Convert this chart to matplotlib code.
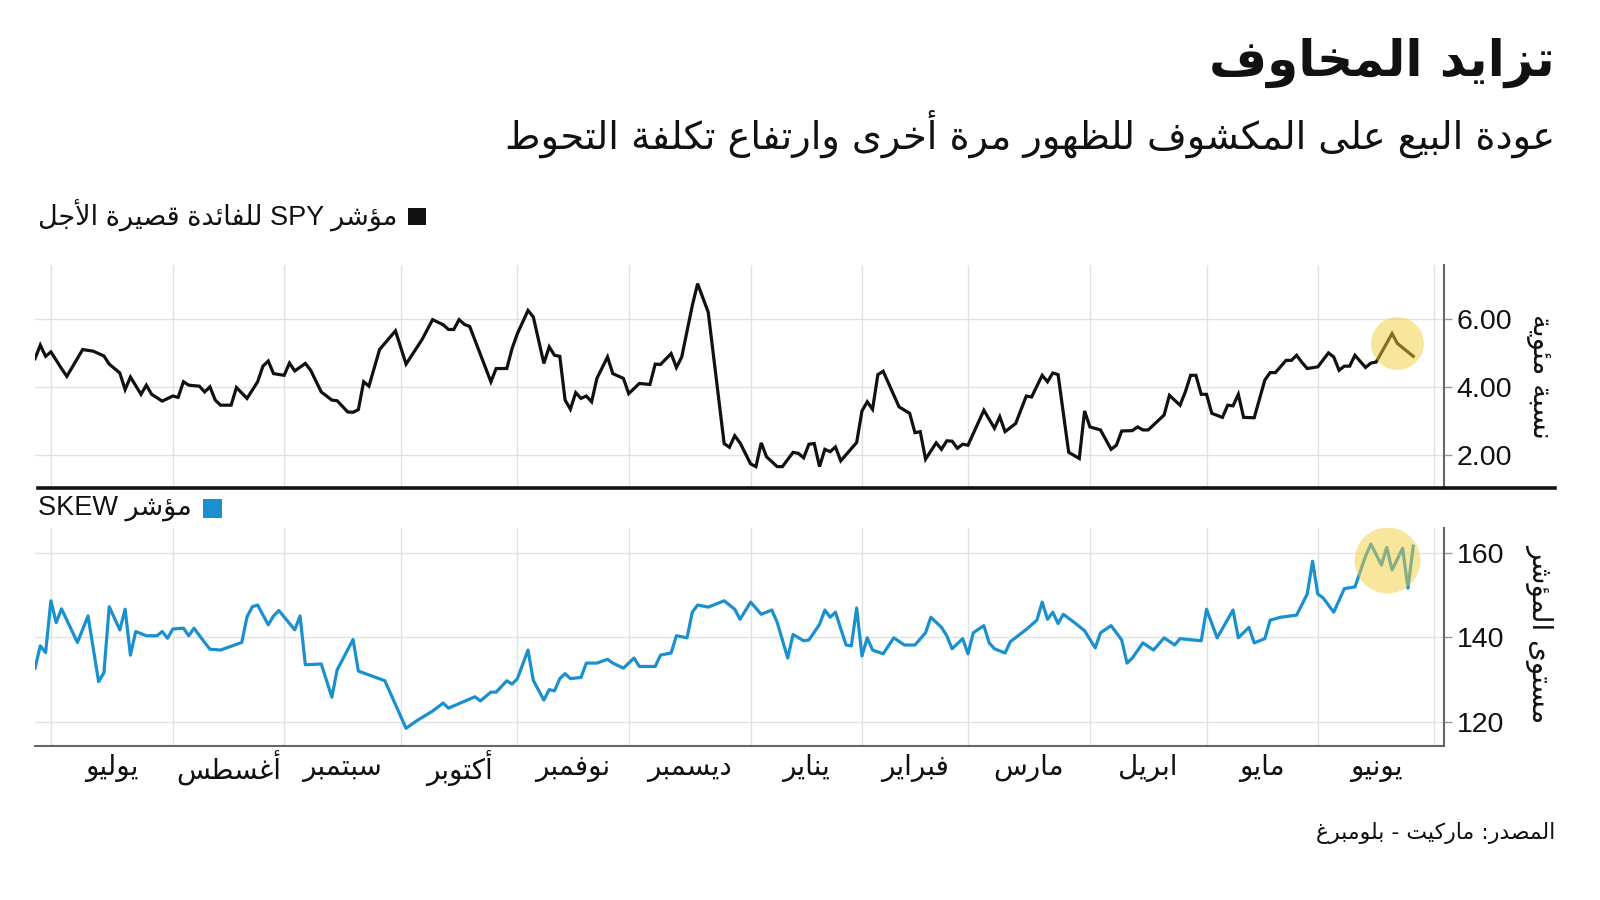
import re
import numpy as np
import pandas as pd
import matplotlib
matplotlib.use("Agg")
import matplotlib.pyplot as plt
from matplotlib.lines import Line2D
from matplotlib.patches import Rectangle
import matplotlib.transforms as mtransforms

# ---- data (x = trading day counted from 1 Jul 2020) ----
spy_day = [-3, -2, -1, 0, 2, 3, 6, 8, 10, 11, 13, 14, 15, 17, 18, 19, 21, 23, 24, 25, 26, 28, 29, 30, 31,
           32, 34, 35, 37, 39, 40, 41, 42, 44, 45, 46, 48, 49, 51, 53, 54, 56, 57, 58, 59, 60, 62, 65, 67,
           70, 72, 74, 75, 76, 77, 78, 79, 83, 84, 86, 87, 88, 90, 91, 93, 94, 95, 96, 97, 98, 99, 100,
           101, 102, 103, 105, 106, 108, 109, 111, 113, 114, 115, 117, 118, 119, 121, 122, 124, 127, 128,
           129, 130, 132, 133, 134, 135, 137, 138, 140, 141, 142, 143, 144, 145, 146, 147, 148, 149, 152,
           153, 154, 155, 156, 157, 160, 162, 163, 164, 165, 167, 168, 169, 170, 171, 172, 173, 176, 178,
           179, 180, 182, 184, 185, 187, 188, 189, 190, 192, 194, 195, 196, 198, 200, 201, 202, 204, 205,
           206, 207, 210, 211, 213, 214, 215, 216, 217, 218, 219, 221, 222, 223, 224, 225, 227, 229, 230,
           231, 233, 234, 235, 236, 237, 239, 241, 242, 243, 244, 245, 246, 248, 249, 250, 253, 254, 257]
spy_val = [4.84, 5.24, 4.91, 5.04, 4.55, 4.32, 5.11, 5.06, 4.92, 4.68, 4.42, 3.93, 4.30, 3.79, 4.06, 3.79,
           3.59, 3.74, 3.70, 4.16, 4.06, 4.03, 3.86, 4.01, 3.62, 3.47, 3.47, 3.99, 3.67, 4.16, 4.62, 4.77,
           4.40, 4.35, 4.71, 4.48, 4.70, 4.50, 3.86, 3.62, 3.60, 3.27, 3.26, 3.34, 4.16, 4.03, 5.11, 5.66,
           4.68, 5.40, 5.99, 5.84, 5.70, 5.70, 5.99, 5.85, 5.79, 4.16, 4.55, 4.55, 5.14, 5.58, 6.26, 6.07,
           4.70, 5.19, 4.94, 4.91, 3.62, 3.35, 3.84, 3.67, 3.74, 3.57, 4.26, 4.89, 4.40, 4.26, 3.81, 4.11,
           4.08, 4.68, 4.67, 4.99, 4.58, 4.89, 6.41, 7.05, 6.21, 2.34, 2.23, 2.57, 2.36, 1.74, 1.66, 2.36,
           1.95, 1.66, 1.66, 2.08, 2.05, 1.92, 2.32, 2.34, 1.66, 2.17, 2.10, 2.24, 1.83, 2.37, 3.30, 3.57,
           3.35, 4.37, 4.47, 3.42, 3.23, 2.66, 2.69, 1.88, 2.36, 2.17, 2.42, 2.41, 2.20, 2.32, 2.29, 3.32,
           2.79, 3.13, 2.69, 2.93, 3.74, 3.71, 4.35, 4.16, 4.42, 4.37, 2.08, 1.90, 3.30, 2.83, 2.74, 2.17,
           2.29, 2.71, 2.72, 2.83, 2.74, 2.74, 3.18, 3.76, 3.47, 3.86, 4.35, 4.35, 3.79, 3.79, 3.23, 3.11,
           3.47, 3.45, 3.79, 3.11, 3.10, 4.21, 4.43, 4.43, 4.79, 4.79, 4.94, 4.73, 4.55, 4.60, 5.01, 4.89,
           4.50, 4.62, 4.62, 4.94, 4.58, 4.71, 4.74, 5.58, 5.29, 4.91]

skew_day = [-3, -2, -1, 0, 1, 2, 5, 7, 9, 10, 11, 13, 14, 15, 16, 18, 20, 21, 22, 23, 25, 26, 27, 29, 30,
            32, 36, 37, 38, 39, 41, 42, 43, 46, 47, 48, 51, 53, 54, 57, 58, 63, 67, 69, 72, 74, 75, 80, 81,
            83, 84, 86, 87, 88, 90, 91, 93, 94, 95, 96, 97, 98, 100, 101, 103, 105, 106, 108, 110, 111,
            114, 115, 117, 118, 120, 121, 122, 124, 127, 129, 130, 132, 134, 136, 137, 139, 140, 142, 143,
            145, 146, 147, 148, 150, 151, 152, 153, 154, 155, 157, 159, 161, 163, 165, 166, 168, 169, 170,
            172, 173, 174, 176, 177, 178, 180, 181, 184, 186, 187, 188, 189, 190, 191, 193, 195, 197, 198,
            200, 202, 203, 204, 206, 208, 210, 212, 213, 217, 218, 220, 223, 224, 226, 227, 229, 230, 232,
            235, 237, 238, 239, 240, 242, 244, 246, 248, 249, 251, 252, 253, 255, 256, 257]
skew_val = [132.7, 138.0, 136.4, 148.7, 143.5, 146.8, 138.8, 145.1, 129.5, 131.6, 147.3, 141.8, 146.7,
            135.8, 141.4, 140.4, 140.4, 141.4, 139.8, 142.0, 142.2, 140.4, 142.2, 138.8, 137.2, 137.0,
            138.8, 144.9, 147.3, 147.7, 143.0, 145.1, 146.4, 141.8, 145.1, 133.5, 133.7, 125.8, 132.3,
            139.5, 132.0, 129.7, 118.4, 120.2, 122.5, 124.4, 123.2, 125.9, 124.9, 127.0, 127.0, 129.7,
            128.9, 130.2, 137.0, 129.8, 125.1, 127.6, 127.3, 130.2, 131.4, 130.2, 130.5, 133.9, 133.9,
            134.8, 133.9, 132.7, 135.1, 133.1, 133.1, 135.8, 136.3, 140.4, 139.9, 146.0, 147.7, 147.2,
            148.7, 146.7, 144.3, 148.4, 145.5, 146.5, 143.6, 135.1, 140.7, 139.2, 139.4, 143.1, 146.5,
            144.8, 146.0, 138.2, 138.0, 147.0, 135.6, 139.9, 137.0, 136.1, 139.9, 138.2, 138.2, 141.1,
            144.8, 142.4, 140.4, 137.3, 139.7, 136.1, 141.1, 142.8, 138.7, 137.3, 136.3, 139.0, 141.9,
            144.1, 148.4, 144.3, 146.0, 143.3, 145.5, 143.6, 141.6, 137.5, 141.1, 142.8, 139.4, 133.9,
            135.1, 138.7, 137.0, 139.9, 138.2, 139.7, 139.2, 146.7, 139.9, 146.5, 139.9, 142.4, 138.7,
            139.7, 144.1, 144.8, 145.3, 150.3, 158.1, 150.3, 149.4, 146.0, 151.6, 152.0, 159.3, 162.2,
            157.2, 161.4, 156.0, 161.2, 151.7, 161.7]

month_names = ["يوليو", "أغسطس", "سبتمبر", "أكتوبر", "نوفمبر", "ديسمبر",
               "يناير", "فبراير", "مارس", "ابريل", "مايو", "يونيو"]
month_starts = pd.date_range("2020-07-01", "2021-07-01", freq="MS")

spy_ticks = [2, 4, 6]
skew_ticks = [120, 140, 160]
spy_focus = (254, 5.3)     # highlighted latest move
skew_focus = (252, 158.4)

title = "تزايد المخاوف"
subtitle = "عودة البيع على المكشوف للظهور مرة أخرى وارتفاع تكلفة التحوط"
spy_label = "مؤشر SPY للفائدة قصيرة الأجل"
skew_label = "مؤشر SKEW"
spy_ylabel = "نسبة مئوية"
skew_ylabel = "مستوى المؤشر"
source = "المصدر: ماركيت - بلومبرغ"

# ---- arabic shaping: matplotlib has no text shaping, so pick presentation forms by hand ----
FORMS = {
    'ء': (0xFE80, 1), 'آ': (0xFE81, 2), 'أ': (0xFE83, 2), 'ؤ': (0xFE85, 2), 'إ': (0xFE87, 2),
    'ئ': (0xFE89, 4), 'ا': (0xFE8D, 2), 'ب': (0xFE8F, 4), 'ة': (0xFE93, 2), 'ت': (0xFE95, 4),
    'ث': (0xFE99, 4), 'ج': (0xFE9D, 4), 'ح': (0xFEA1, 4), 'خ': (0xFEA5, 4), 'د': (0xFEA9, 2),
    'ذ': (0xFEAB, 2), 'ر': (0xFEAD, 2), 'ز': (0xFEAF, 2), 'س': (0xFEB1, 4), 'ش': (0xFEB5, 4),
    'ص': (0xFEB9, 4), 'ض': (0xFEBD, 4), 'ط': (0xFEC1, 4), 'ظ': (0xFEC5, 4), 'ع': (0xFEC9, 4),
    'غ': (0xFECD, 4), 'ف': (0xFED1, 4), 'ق': (0xFED5, 4), 'ك': (0xFED9, 4), 'ل': (0xFEDD, 4),
    'م': (0xFEE1, 4), 'ن': (0xFEE5, 4), 'ه': (0xFEE9, 4), 'و': (0xFEED, 2), 'ى': (0xFEEF, 2),
    'ي': (0xFEF1, 4),
}
LAM_ALEF = {'آ': 0xFEF5, 'أ': 0xFEF7, 'إ': 0xFEF9, 'ا': 0xFEFB}


def ar(text):
    chars = list(text)
    out = []
    i = 0
    while i < len(chars):
        c = chars[i]
        if c not in FORMS:
            out.append(c)
            i += 1
            continue
        prev = chars[i - 1] if i > 0 else ''
        joins_prev = prev in FORMS and FORMS[prev][1] == 4
        if c == 'ل' and i + 1 < len(chars) and chars[i + 1] in LAM_ALEF:
            out.append(chr(LAM_ALEF[chars[i + 1]] + (1 if joins_prev else 0)))
            i += 2
            continue
        nxt = chars[i + 1] if i + 1 < len(chars) else ''
        base, n = FORMS[c]
        joins_next = n == 4 and nxt in FORMS
        if joins_prev and joins_next:
            f = 3
        elif joins_prev and n > 1:
            f = 1
        elif joins_next:
            f = 2
        else:
            f = 0
        out.append(chr(base + f))
        i += 1
    s = ''.join(out)[::-1]
    # latin words / numbers keep left-to-right order
    return re.sub(r'[A-Za-z0-9.]+', lambda m: m.group(0)[::-1], s)


plt.rcParams['font.family'] = ['DejaVu Sans']
MIX = ['Liberation Sans', 'DejaVu Sans']
INK = '#111111'
BLUE = '#1a90cf'
GRID = '#e2e2e2'
AXC = '#666666'

fig = plt.figure(figsize=(16, 9), dpi=100)
W, H = 1600, 900

start = np.datetime64("2020-07-01")
tick_pos = np.busday_count(start, month_starts.values.astype("datetime64[D]"))
mids = (tick_pos[:-1] + tick_pos[1:]) / 2

x0, x1 = 35, 1444
ax1 = fig.add_axes([x0 / W, 1 - 488 / H, (x1 - x0) / W, (488 - 265) / H])
ax2 = fig.add_axes([x0 / W, 1 - 746 / H, (x1 - x0) / W, (746 - 528) / H])

for ax in (ax1, ax2):
    ax.set_xlim(-3, 262.8)
    ax.set_xticks(tick_pos)
    ax.set_xticklabels([])
    ax.tick_params(axis='x', length=0)
    ax.yaxis.tick_right()
    ax.tick_params(axis='y', length=6, width=1, color='#999999', pad=3, labelsize=20.5, labelcolor=INK)
    ax.grid(True, color=GRID, linewidth=1)
    ax.set_axisbelow(True)
    for s in ('top', 'left'):
        ax.spines[s].set_visible(False)
    ax.spines['right'].set_color(AXC)
    ax.spines['right'].set_linewidth(1.5)

ax1.spines['bottom'].set_visible(False)
ax2.spines['bottom'].set_color(AXC)
ax2.spines['bottom'].set_linewidth(1.5)

ax1.plot(spy_day, spy_val, color=INK, lw=2.3, solid_joinstyle='miter', zorder=3)
ax1.set_ylim(1.03, 7.6)
ax1.set_yticks(spy_ticks)
ax1.set_yticklabels([f"{v:.2f}" for v in spy_ticks], fontfamily=MIX)
ax1.scatter([spy_focus[0]], [spy_focus[1]], s=1450, color='#f2cf3c', alpha=0.5, lw=0, zorder=4)

ax2.plot(skew_day, skew_val, color=BLUE, lw=2.3, zorder=3)
ax2.set_ylim(114.2, 166)
ax2.set_yticks(skew_ticks)
ax2.set_yticklabels([str(v) for v in skew_ticks], fontfamily=MIX)
ax2.scatter([skew_focus[0]], [skew_focus[1]], s=2250, color='#f2cf3c', alpha=0.5, lw=0, zorder=4)

# month names under the lower panel
trans = mtransforms.blended_transform_factory(ax2.transData, ax2.transAxes)
for m, name in zip(mids, month_names):
    ax2.text(m, -0.1, ar(name), transform=trans, ha='center', va='center', fontsize=20, color=INK)

# separator rule between the panels
fig.add_artist(Line2D([38 / W, 1555 / W], [1 - 488 / H, 1 - 488 / H], color=INK, lw=2.6))

# titles
fig.text(1555 / W, 1 - 63 / H, ar(title), ha='right', va='center', fontsize=36, fontweight='bold', color=INK)
fig.text(1555 / W, 1 - 134 / H, ar(subtitle), ha='right', va='center', fontsize=27.5, color=INK)

# legend keys
fig.add_artist(Rectangle((408 / W, 1 - 225 / H), 18 / W, 17 / H, transform=fig.transFigure, color=INK, lw=0))
fig.text(397 / W, 1 - 216 / H, ar(spy_label), ha='right', va='center', fontsize=19.5, color=INK, family=MIX)
fig.add_artist(Rectangle((203 / W, 1 - 518 / H), 19 / W, 19 / H, transform=fig.transFigure, color=BLUE, lw=0))
fig.text(192 / W, 1 - 508 / H, ar(skew_label), ha='right', va='center', fontsize=19.5, color=INK, family=MIX)

# axis titles on the right
fig.text(1540 / W, 1 - 376 / H, ar(spy_ylabel), rotation=270, ha='center', va='center', fontsize=20, color=INK)
fig.text(1540 / W, 1 - 633 / H, ar(skew_ylabel), rotation=270, ha='center', va='center', fontsize=20, color=INK)

fig.text(1555 / W, 1 - 833 / H, ar(source), ha='right', va='center', fontsize=15.8, color=INK)

fig.savefig("out.png", dpi=100, facecolor='white')
